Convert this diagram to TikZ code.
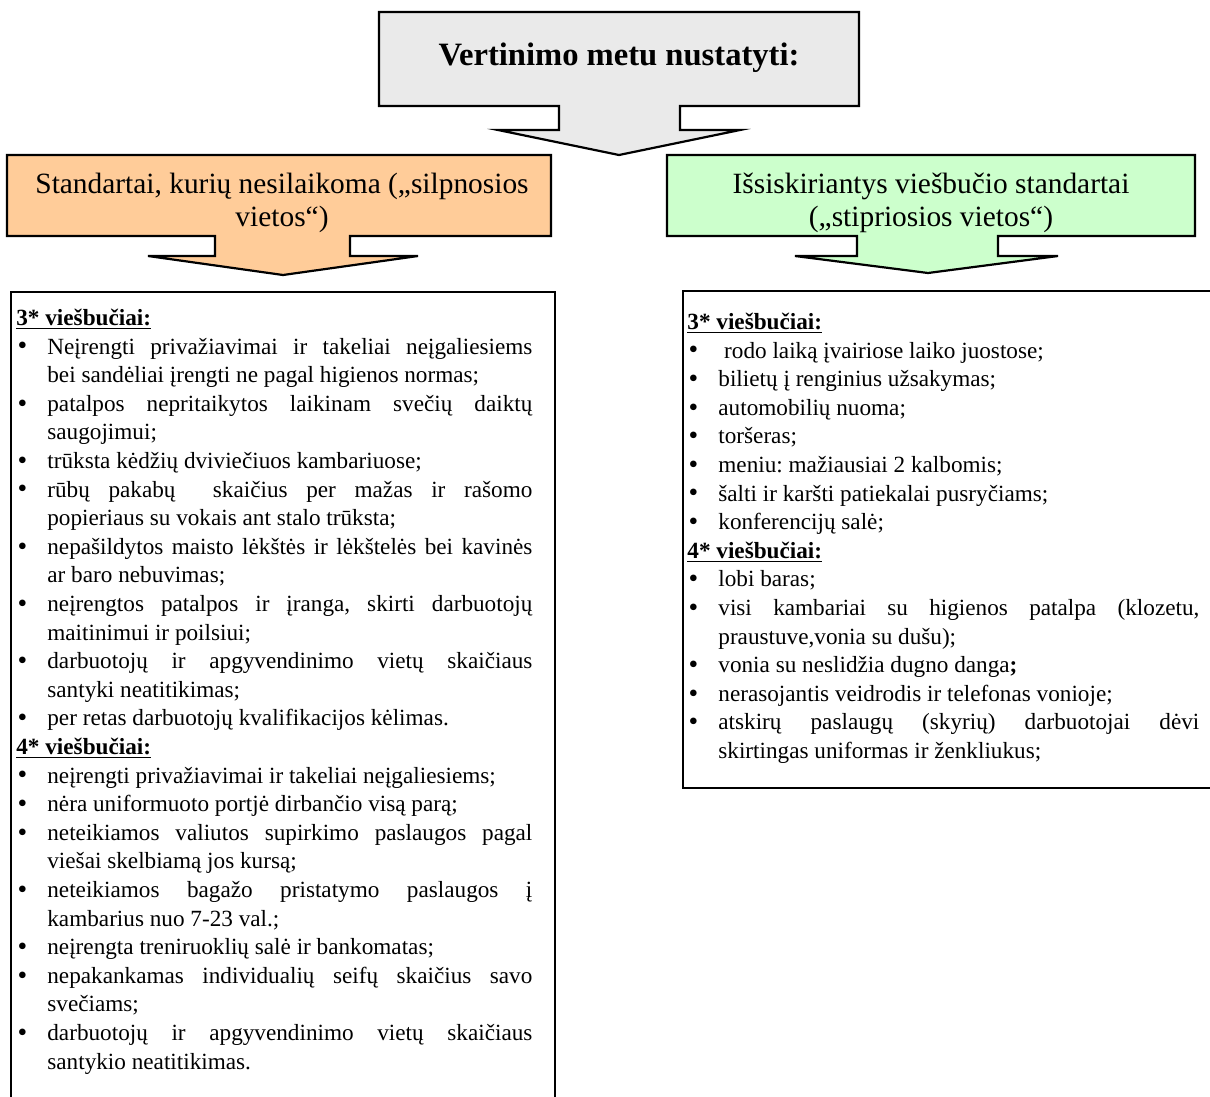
\documentclass[tikz,border=0pt]{standalone}
\usepackage{fontspec}
\setmainfont{Liberation Serif}
\definecolor{calloutgray}{HTML}{EAEAEA}
\definecolor{weakfill}{HTML}{FFCC99}
\definecolor{strongfill}{HTML}{CCFFCC}
% list helpers: every printed line is its own paragraph, so the
% baseline distance stays constant
\newlength\bulletind
\setlength\bulletind{15.5pt}
\newlength\itemcolw
\newcommand\hdr[1]{\noindent\underline{\textbf{#1}}\par}
\newcommand\bul{\makebox[\bulletind][l]{\hspace{0.6pt}\raisebox{-0.4pt}{\fontsize{13.8}{13.8}\selectfont\textbullet}}}
\newcommand\itm[1]{\noindent\bul #1\par}
\newcommand\itmj[2]{\noindent\bul\makebox[\itemcolw][s]{#1}\par
  \noindent\hspace*{\bulletind}#2\par}
\begin{document}
\begin{tikzpicture}[x=0.5pt,y=-0.5pt,
  outline/.style={draw=black,line width=1.1pt,line join=miter},
  listbox/.style={draw=black,line width=1.1pt},
  listtext/.style={anchor=north west,inner sep=0pt,align=justify,
    font=\fontsize{11.6}{14.3}\selectfont\frenchspacing},
  headtext/.style={align=center,inner sep=0pt,
    font=\fontsize{14.7}{16.3}\selectfont}]
\useasboundingbox (0,0) rectangle (1210,1097);
\clip (0,0) rectangle (1210,1097);

% top callout
\draw[outline,fill=calloutgray] (379,12) -- (859,12) -- (859,106) -- (680,106)
  -- (680,130) -- (740,130) -- (619,155) -- (498,130) -- (559,130)
  -- (559,106) -- (379,106) -- cycle;
\node[font=\fontsize{16.3}{18}\selectfont\bfseries] (title) at (619,58) {Vertinimo metu nustatyti:};

% weak points callout
\draw[outline,fill=weakfill] (7,155) -- (551,155) -- (551,236) -- (350,236)
  -- (350,256) -- (418,256) -- (283,275) -- (148,256) -- (215,256)
  -- (215,236) -- (7,236) -- cycle;
\node[headtext] (weak) at (282,203) {Standartai, kurių nesilaikoma („silpnosios\\vietos“)};

% strong points callout
\draw[outline,fill=strongfill] (667,155) -- (1195,155) -- (1195,236) -- (998,236)
  -- (998,256) -- (1058,256) -- (928,273) -- (795,256) -- (857,256)
  -- (857,236) -- (667,236) -- cycle;
\node[headtext] (strong) at (931,203) {Išsiskiriantys viešbučio standartai\\(„stipriosios vietos“)};

% list frames
\draw[listbox] (11,1130) -- (11,292) -- (555,292) -- (555,1130);
\draw[listbox] (1230,291) -- (683,291) -- (683,788) -- (1230,788);

% weak points list
\setlength\itemcolw{242.5pt}
\node[listtext,text width=258pt] (weaklist) at (16,305) {%
\hdr{\rule{0pt}{10pt}3* viešbučiai:}
\itmj{Neįrengti privažiavimai ir takeliai neįgaliesiems}{bei sandėliai įrengti ne pagal higienos normas;}
\itmj{patalpos nepritaikytos laikinam svečių daiktų}{saugojimui;}
\itm{trūksta kėdžių dviviečiuos kambariuose;}
\itmj{rūbų pakabų\ \ skaičius per mažas ir rašomo}{popieriaus su vokais ant stalo trūksta;}
\itmj{nepašildytos maisto lėkštės ir lėkštelės bei kavinės}{ar baro nebuvimas;}
\itmj{neįrengtos patalpos ir įranga, skirti darbuotojų}{maitinimui ir poilsiui;}
\itmj{darbuotojų ir apgyvendinimo vietų skaičiaus}{santyki neatitikimas;}
\itm{per retas darbuotojų kvalifikacijos kėlimas.}
\hdr{4* viešbučiai:}
\itm{neįrengti privažiavimai ir takeliai neįgaliesiems;}
\itm{nėra uniformuoto portjė dirbančio visą parą;}
\itmj{neteikiamos valiutos supirkimo paslaugos pagal}{viešai skelbiamą jos kursą;}
\itmj{neteikiamos bagažo pristatymo paslaugos į}{kambarius nuo 7-23 val.;}
\itm{neįrengta treniruoklių salė ir bankomatas;}
\itmj{nepakankamas individualių seifų skaičius savo}{svečiams;}
\itmj{darbuotojų ir apgyvendinimo vietų skaičiaus}{santykio neatitikimas.}};

% strong points list
\setlength\itemcolw{240.5pt}
\node[listtext,text width=256.5pt] (stronglist) at (687,309) {%
\hdr{\rule{0pt}{10pt}3* viešbučiai:}
\itm{\hspace{0.25em}rodo laiką įvairiose laiko juostose;}
\itm{bilietų į renginius užsakymas;}
\itm{automobilių nuoma;}
\itm{toršeras;}
\itm{meniu: mažiausiai 2 kalbomis;}
\itm{šalti ir karšti patiekalai pusryčiams;}
\itm{konferencijų salė;}
\hdr{4* viešbučiai:}
\itm{lobi baras;}
\itmj{visi kambariai su higienos patalpa (klozetu,}{praustuve,vonia su dušu);}
\itm{vonia su neslidžia dugno danga\textbf{;}}
\itm{nerasojantis veidrodis ir telefonas vonioje;}
\itmj{atskirų paslaugų (skyrių) darbuotojai dėvi}{skirtingas uniformas ir ženkliukus;}};
\end{tikzpicture}
\end{document}
